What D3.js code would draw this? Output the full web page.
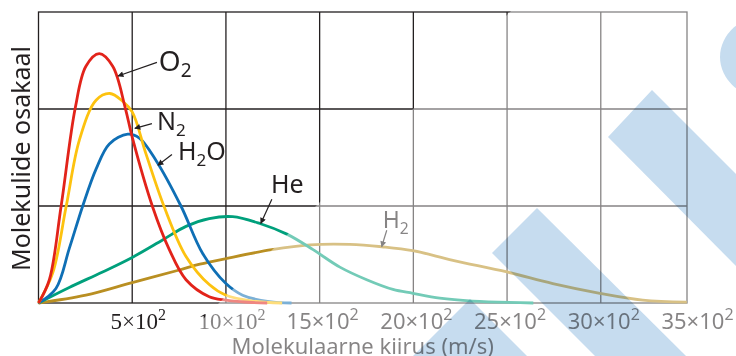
<!DOCTYPE html>
<html>
<meta charset="utf-8">
<style>
  body { margin: 0; background: #fff; }
  svg { display: block; font-family: "Noto Sans", sans-serif; }
</style>
<body>
<script src="https://cdn.jsdelivr.net/npm/d3@7"></script>
<script>

// speeds in m/s, values in grid rows (plot is 3 rows high)
var speedO2 = [0, 58, 120, 196, 253, 324, 396, 463, 500, 609, 698, 787, 911, 1000, 1142, 1220];
var fracO2  = [0, 0.24, 0.99, 2.01, 2.44, 2.57, 2.44, 2.01, 1.71, 0.99, 0.55, 0.24, 0.065, 0.03, 0.005, 0];

var speedN2 = [0, 76, 147, 218, 307, 381, 449, 500, 573, 671, 787, 911, 1000, 1142, 1300];
var fracN2  = [0, 0.31, 0.99, 1.68, 2.09, 2.16, 2.08, 1.97, 1.54, 0.99, 0.48, 0.19, 0.08, 0.02, 0];

var speedH2O = [0, 93, 164, 236, 307, 378, 476, 538, 627, 760, 876, 1000, 1089, 1231, 1350];
var fracH2O  = [0, 0.15, 0.56, 1.0, 1.38, 1.64, 1.74, 1.70, 1.47, 1.0, 0.51, 0.2, 0.08, 0.014, 0];

var speedHe = [0, 164, 342, 500, 662, 787, 911, 1036, 1181, 1325, 1465, 1608, 1751, 1891, 1997, 2141, 2317, 2640];
var fracHe  = [0, 0.16, 0.32, 0.47, 0.65, 0.79, 0.87, 0.89, 0.82, 0.71, 0.55, 0.37, 0.24, 0.14, 0.10, 0.05, 0.02, 0];

var speedH2 = [0, 253, 500, 751, 861, 1005, 1245, 1448, 1661, 1832, 1997, 2211, 2499, 2744, 2995, 3224, 3459];
var fracH2  = [0, 0.08, 0.21, 0.34, 0.40, 0.46, 0.55, 0.60, 0.605, 0.58, 0.54, 0.44, 0.32, 0.20, 0.10, 0.03, 0.01];

var gases = ["O2", "N2", "H2O", "He", "H2"];
var gasColors = ["#e2231a", "#fdc20f", "#0f6fb5", "#00a07c", "#b98f22"];

var tickSpeeds = [500, 1000, 1500, 2000, 2500, 3000, 3500];
var tickMant   = ["5", "10", "15", "20", "25", "30", "35"];
var gridSpeeds = [500, 1000, 1500, 2000, 2500, 3000];
var gridRows   = [1, 2];

var width = 736, height = 356;
var plotL = 38.5, plotR = 687, plotT = 12, plotB = 303;

var svg = d3.select("body").append("svg")
    .attr("width", width)
    .attr("height", height);

var x = d3.scaleLinear().domain([0, 3460]).range([plotL, plotR]);
var y = d3.scaleLinear().domain([0, 3]).range([plotB, plotT]);

// grid + frame
var grid = svg.append("g").attr("stroke", "#231f20").attr("stroke-width", 1.3);
grid.selectAll(".v").data(gridSpeeds).enter().append("line")
    .attr("x1", function (d) { return x(d); }).attr("x2", function (d) { return x(d); })
    .attr("y1", plotT).attr("y2", plotB);
grid.selectAll(".h").data(gridRows).enter().append("line")
    .attr("x1", plotL).attr("x2", plotR)
    .attr("y1", function (d) { return y(d); }).attr("y2", function (d) { return y(d); });
grid.append("rect")
    .attr("x", plotL).attr("y", plotT)
    .attr("width", plotR - plotL).attr("height", plotB - plotT)
    .attr("fill", "none");

// curves
var series = [
  { name: "O2", s: speedO2, f: fracO2 },
  { name: "N2", s: speedN2, f: fracN2 },
  { name: "H2O", s: speedH2O, f: fracH2O },
  { name: "He", s: speedHe, f: fracHe },
  { name: "H2", s: speedH2, f: fracH2 }
];

var line = d3.line()
    .x(function (d) { return x(d[0]); })
    .y(function (d) { return Math.min(y(d[1]), plotB); })
    .curve(d3.curveCatmullRom.alpha(0.5));

// draw H2 and He first so the heavy gases sit on top
svg.append("g").selectAll("path")
    .data(series.slice().reverse()).enter().append("path")
    .attr("d", function (d) { return line(d3.zip(d.s, d.f)); })
    .attr("fill", "none")
    .attr("stroke", function (d) { return gasColors[gases.indexOf(d.name)]; })
    .attr("stroke-width", 2.8)
    .attr("stroke-linejoin", "round");

// labels with arrows, positions in data units
var notes = [
  { main: ["O", "2"], size: 28, text: [642, 2.39], tail: [632, 2.48], tip: [424, 2.34] },
  { main: ["N", "2"], size: 25, text: [632, 1.78], tail: [605, 1.85], tip: [514, 1.80] },
  { main: ["H", "2", "O"], size: 25, text: [744, 1.47], tail: [712, 1.53], tip: [637, 1.42] },
  { main: ["He"], size: 25, text: [1240, 1.13], tail: [1245, 1.07], tip: [1186, 0.82] },
  { main: ["H", "2"], size: 23, text: [1837, 0.77], tail: [1858, 0.75], tip: [1831, 0.58] }
];

var defs = svg.append("defs");
defs.append("marker")
    .attr("id", "head")
    .attr("viewBox", "0 0 10 10")
    .attr("refX", 9).attr("refY", 5)
    .attr("markerWidth", 10).attr("markerHeight", 6)
    .attr("markerUnits", "userSpaceOnUse")
    .attr("orient", "auto")
  .append("path").attr("d", "M0,0 L10,5 L0,10 z").attr("fill", "#231f20");

var ann = svg.append("g");
ann.selectAll("line").data(notes).enter().append("line")
    .attr("x1", function (d) { return x(d.tail[0]); })
    .attr("y1", function (d) { return y(d.tail[1]); })
    .attr("x2", function (d) { return x(d.tip[0]); })
    .attr("y2", function (d) { return y(d.tip[1]); })
    .attr("stroke", "#231f20").attr("stroke-width", 1.2)
    .attr("marker-end", "url(#head)");

ann.selectAll("text").data(notes).enter().append("text")
    .attr("x", function (d) { return x(d.text[0]); })
    .attr("y", function (d) { return y(d.text[1]); })
    .attr("font-size", function (d) { return d.size; })
    .attr("fill", "#231f20")
    .each(function (d) {
      var t = d3.select(this);
      d.main.forEach(function (part) {
        if (part === "2") {
          t.append("tspan").attr("font-size", d.size * 0.68).attr("dy", 6).text(part);
        } else {
          var sp = t.append("tspan").text(part);
          if (t.selectAll("tspan").size() > 1) sp.attr("dy", -6);
        }
      });
    });

// tick labels
var ticks = svg.append("g").attr("fill", "#231f20");
ticks.selectAll("text").data(tickSpeeds).enter().append("text")
    .attr("x", function (d, i) { return x(d) + (i < 2 ? 6 : 3); })
    .attr("y", 329)
    .attr("text-anchor", "middle")
    .attr("font-size", function (d, i) { return i < 2 ? 23 : 22; })
    .attr("font-family", function (d, i) { return i < 2 ? "Liberation Serif, serif" : "Noto Sans, sans-serif"; })
    .each(function (d, i) {
      var t = d3.select(this);
      t.append("tspan").text(tickMant[i] + "\u00d710");
      t.append("tspan").attr("font-size", 16).attr("dy", -9).text("2");
    });

// axis titles
svg.append("text")
    .attr("x", (plotL + plotR) / 2)
    .attr("y", 354)
    .attr("text-anchor", "middle")
    .attr("font-size", 22)
    .attr("fill", "#231f20")
    .text("Molekulaarne kiirus (m/s)");

svg.append("text")
    .attr("transform", "translate(30," + ((plotT + plotB) / 2 + 1) + ") rotate(-90)")
    .attr("text-anchor", "middle")
    .attr("font-size", 25)
    .attr("fill", "#231f20")
    .text("Molekulide osakaal");

// faded right half of the picture
svg.append("polygon")
    .attr("points", "522,0 736,0 736,356 166,356")
    .attr("fill", "#fff").attr("opacity", 0.45);

// watermark shapes
var wm = svg.append("g").attr("fill", "#c6dcef").style("mix-blend-mode", "multiply");
wm.append("ellipse").attr("cx", 768).attr("cy", 57).attr("rx", 48).attr("ry", 42);
wm.append("polygon").attr("points", "652,90 736,174 736,266 608,137");
wm.append("polygon").attr("points", "537,208 686,356 595,356 492,253");
wm.append("polygon").attr("points", "413,356 470,299 527,356");

</script>
</body>
</html>
